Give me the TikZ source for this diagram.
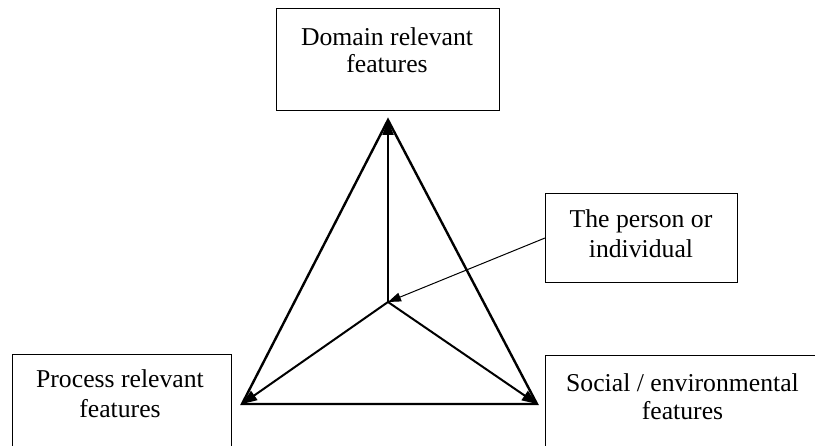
\documentclass[tikz,border=0pt]{standalone}
\usepackage{fontspec}
\setmainfont{Liberation Serif}
\usetikzlibrary{arrows.meta}
\begin{document}
\begin{tikzpicture}[x=1pt,y=-1pt,
  box/.style={draw,line width=1.3pt,inner sep=0pt,anchor=north west},
  lbl/.style={font=\fontsize{25.7}{#1}\selectfont,align=center,inner sep=0pt},
  edge/.style={line width=2.4pt,line join=miter},
  spoke/.style={line width=2pt,-{Triangle[length=15pt,width=11pt]}},
  thin/.style={line width=1pt,-{Triangle[length=13pt,width=9pt]}}]
\useasboundingbox (0,0) rectangle (815,446);
% boxes
\node[box,minimum width=223pt,minimum height=102pt] (dombox) at (276,8) {};
\node[box,minimum width=192pt,minimum height=89pt] (perbox) at (545,193) {};
\node[box,minimum width=219pt,minimum height=100pt] (probox) at (12,354) {};
\node[box,minimum width=280pt,minimum height=100pt] (socbox) at (545,355) {};
% labels
\node[lbl=27] (domtxt) at (387,50.6) {Domain relevant\\features};
\node[lbl=30] (pertxt) at (641,234) {The person or\\individual};
\node[lbl=30] (protxt) at (120,394) {Process relevant\\features};
\node[lbl=28] (soctxt) at (682.5,397) {Social / environmental\\features};
% triangle
\coordinate (A) at (388,120);
\coordinate (L) at (242,404);
\coordinate (R) at (537,404);
\coordinate (C) at (388,302);
\draw[edge] (A) -- (L) -- (R) -- cycle;
\draw[spoke] (C) -- (A);
\draw[spoke] (C) -- (L);
\draw[spoke] (C) -- (R);
\draw[thin] (perbox.west |- 0,238) -- (C);
\end{tikzpicture}
\end{document}
